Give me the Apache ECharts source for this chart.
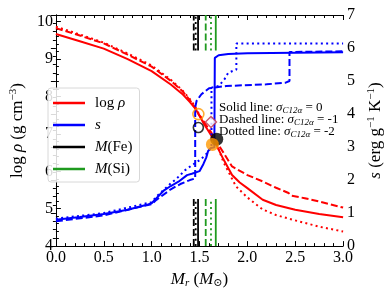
<!DOCTYPE html>
<html><head><meta charset="utf-8">
<script src="https://cdn.jsdelivr.net/npm/echarts@6/dist/echarts.min.js"></script>
<style>html,body{margin:0;padding:0;background:#fff}#c{width:392px;height:294px}</style>
</head><body><div id="c"></div>
<script>
// log rho (left axis) curves: [M_r, log rho]
var rhoSolid = [[0,9.67],[0.25,9.48],[0.5,9.28],[0.75,9.0],[1.0,8.68],[1.2,8.32],[1.32,8.07],[1.4,7.85],[1.45,7.7],[1.49,7.53],[1.55,7.25],[1.6,7.05],[1.66,6.8],[1.7,6.58],[1.75,6.32],[1.84,5.9],[1.92,5.7],[2.0,5.55],[2.16,5.24],[2.3,5.1],[2.5,4.97],[2.75,4.86],[3.0,4.77]];
var rhoDashed = [[0,9.83],[0.25,9.63],[0.5,9.42],[0.75,9.12],[1.0,8.8],[1.2,8.42],[1.32,8.15],[1.4,7.9],[1.45,7.72],[1.49,7.53],[1.55,7.3],[1.62,7.05],[1.67,6.82],[1.75,6.5],[1.84,6.13],[2.0,5.9],[2.16,5.73],[2.3,5.56],[2.43,5.42],[2.46,5.35],[2.6,5.28],[2.74,5.2],[3.0,5.03]];
var rhoDotted = [[0,9.87],[0.25,9.66],[0.5,9.44],[0.75,9.15],[1.0,8.83],[1.2,8.45],[1.32,8.17],[1.4,7.93],[1.45,7.75],[1.49,7.55],[1.55,7.3],[1.62,7.0],[1.67,6.8],[1.75,6.25],[1.84,5.8],[1.88,5.6],[2.0,5.3],[2.16,4.98],[2.3,4.83],[2.48,4.7],[2.75,4.52],[3.0,4.39]];
// entropy s (right axis) curves: [M_r, s]
var sSolid = [[0,0.8],[0.25,0.88],[0.5,0.97],[0.75,1.1],[0.95,1.25],[1.0,1.3],[1.05,1.45],[1.13,1.69],[1.2,1.82],[1.28,1.95],[1.37,2.15],[1.42,2.19],[1.5,2.27],[1.54,2.48],[1.57,2.68],[1.59,2.88],[1.62,2.97],[1.655,2.99],[1.66,5.7],[1.7,5.78],[1.8,5.82],[2.0,5.84],[2.5,5.86],[3.0,5.87]];
var sDashed = [[0,0.75],[0.5,0.93],[1.0,1.27],[1.05,1.4],[1.2,1.72],[1.3,1.88],[1.4,2.0],[1.455,2.05],[1.455,4.2],[1.47,4.4],[1.52,4.6],[1.6,4.78],[1.78,4.85],[2.2,4.9],[2.4,4.95],[2.44,5.0],[2.44,5.88],[3.0,5.9]];
var sDotted = [[0,0.83],[0.5,1.0],[1.0,1.33],[1.05,1.5],[1.2,1.9],[1.26,2.04],[1.35,2.3],[1.42,2.45],[1.5,2.6],[1.56,2.75],[1.6,2.9],[1.625,3.0],[1.625,4.8],[1.7,4.85],[1.76,5.05],[1.8,5.25],[1.885,5.35],[1.885,6.14],[3.0,6.14]];
// M(Fe) and M(Si) positions (solid, dashed, dotted)
var mFe = [1.485, 1.44, 1.46];
var mSi = [1.67, 1.565, 1.62];
var markTop = [9.23, 10.18];
var markBottom = [4.0, 5.26];
// marker points on log rho axis
var openOrange = [[1.488, 7.53]];
var openBlack = [[1.488, 7.17]];
var openDiamond = [[1.62, 7.32]];
var filledOrange = [[1.635, 6.72]];
var filledBlack = [[1.68, 6.86]];

var RED = '#ff0000', BLUE = '#0000ff', GREEN = '#1f9a1f';
var styles = ['solid', [7,3], [2,3.3]];
var FONT = '"Liberation Serif","DejaVu Serif",serif';

var series = [];
function lineS(name, data, color, st, yi, w) {
  series.push({name: name, type: 'line', data: data, yAxisIndex: yi, symbol: 'none', showSymbol: false,
    lineStyle: {color: color, width: w || 2, type: st}, itemStyle: {color: color}, animation: false, z: 2});
}
lineS('rho', rhoSolid, RED, styles[0], 0);
lineS('rho', rhoDashed, RED, styles[1], 0);
lineS('rho', rhoDotted, RED, styles[2], 0);
lineS('s', sSolid, BLUE, styles[0], 1);
lineS('s', sDashed, BLUE, styles[1], 1);
lineS('s', sDotted, BLUE, styles[2], 1);
[mFe, mSi].forEach(function (arr, k) {
  var nm = k === 0 ? 'Fe' : 'Si';
  var col = k === 0 ? '#000' : GREEN;
  arr.forEach(function (x, i) {
    lineS(nm, [[x, markTop[0]], [x, markTop[1]]], col, styles[i], 0, 1.8);
    lineS(nm, [[x, markBottom[0]], [x, markBottom[1]]], col, styles[i], 0, 1.8);
  });
});
function scat(data, sym, size, fill, border, bw) {
  series.push({type: 'scatter', data: data, yAxisIndex: 0, symbol: sym, symbolSize: size,
    itemStyle: {color: fill, borderColor: border, borderWidth: bw}, animation: false, z: 5});
}
scat(openOrange, 'circle', 11, 'rgba(0,0,0,0)', '#ff9900', 1.6);
scat(openBlack, 'circle', 10, 'rgba(0,0,0,0)', '#000', 1.6);
scat(openDiamond, 'diamond', 11, '#fff', '#c0304a', 1.4);
scat(filledBlack, 'circle', 13, '#000', '#000', 0);
scat(filledOrange, 'circle', 13, '#ff9900', '#ff9900', 0);

var tickCommon = {show: true, inside: true, length: 5, lineStyle: {color: '#000', width: 1}};
var minorCommon = function (n) { return {show: true, splitNumber: n, length: 3, lineStyle: {color: '#000', width: 1}}; };
var labelFont = {color: '#000', fontFamily: FONT, fontSize: 16};
var rich = {
  n: {fontFamily: FONT, fontSize: 17, color: '#000'},
  i: {fontFamily: FONT, fontSize: 17, fontStyle: 'italic', color: '#000'},
  sup: {fontFamily: FONT, fontSize: 11, color: '#000', verticalAlign: 'top', padding: [0,0,8,0]},
  sub: {fontFamily: FONT, fontSize: 11, fontStyle: 'italic', color: '#000', padding: [8,0,0,0]},
  subn: {fontFamily: FONT, fontSize: 11, color: '#000', padding: [8,0,0,0]}
};

var chart = echarts.init(document.getElementById('c'), null, {renderer: 'canvas'});
chart.setOption({
  backgroundColor: '#fff',
  animation: false,
  grid: {left: 43, right: 38, top: 15, bottom: 39},
  legend: {
    left: 48, top: 88, orient: 'vertical', data: ['rho', 's', 'Fe', 'Si'],
    icon: 'rect', itemWidth: 32, itemHeight: 2.5, itemGap: 6,
    backgroundColor: 'rgba(255,255,255,0.85)', borderColor: '#d8d8d8', borderWidth: 1, borderRadius: 3,
    padding: [7, 7, 5, 5],
    formatter: function (n) {
      return {rho: '{n|log }{i|ρ}', s: '{i|s}', Fe: '{i|M}{n|(Fe)}', Si: '{i|M}{n|(Si)}'}[n];
    },
    textStyle: {padding: [0, 0, 0, 5], lineHeight: 16, rich: {
      n: {fontFamily: FONT, fontSize: 15, color: '#000', lineHeight: 16},
      i: {fontFamily: FONT, fontSize: 15, fontStyle: 'italic', color: '#000', lineHeight: 16}
    }}
  },
  xAxis: [{
    type: 'value', min: 0, max: 3, interval: 0.5, position: 'bottom',
    axisLine: {show: true, lineStyle: {color: '#000', width: 1}},
    axisTick: tickCommon, minorTick: minorCommon(5), splitLine: {show: false},
    axisLabel: Object.assign({margin: 4, formatter: function (v) { return v.toFixed(1); }}, labelFont),
    name: '{i|M}{sub|r}{n| (}{i|M}{subn|⊙}{n|)}', nameLocation: 'middle', nameGap: 22,
    nameTextStyle: {rich: rich}
  }, {
    type: 'value', min: 0, max: 3, interval: 0.5, position: 'top',
    axisLine: {show: true, lineStyle: {color: '#000', width: 1}},
    axisTick: tickCommon, minorTick: minorCommon(5), splitLine: {show: false},
    axisLabel: {show: false}
  }],
  yAxis: [{
    type: 'value', min: 4, max: 10.18, interval: 1, position: 'left',
    axisLine: {show: true, lineStyle: {color: '#000', width: 1}},
    axisTick: tickCommon, minorTick: minorCommon(5), splitLine: {show: false},
    axisLabel: Object.assign({margin: 3, formatter: function (v) { return Math.abs(v - Math.round(v)) < 1e-6 ? String(Math.round(v)) : ''; }}, labelFont),
    name: '{n|log }{i|ρ}{n| (g cm}{sup|−3}{n|)}', nameLocation: 'middle', nameGap: 22,
    nameTextStyle: {rich: rich}
  }, {
    type: 'value', min: 0, max: 7, interval: 1, position: 'right',
    axisLine: {show: true, lineStyle: {color: '#000', width: 1}},
    axisTick: tickCommon, minorTick: minorCommon(4), splitLine: {show: false},
    axisLabel: Object.assign({margin: 4}, labelFont),
    name: '{i|s}{n| (erg g}{sup|−1}{n| K}{sup|−1}{n|)}', nameLocation: 'middle', nameGap: 18,
    nameTextStyle: {rich: rich}
  }],
  graphic: [{
    type: 'text', left: 219, top: 101, z: 10,
    style: {
      text: '{n|Solid line: }{i|σ}{s|C12α}{n| = 0}\n{n|Dashed line: }{i|σ}{s|C12α}{n| = -1}\n{n|Dotted line: }{i|σ}{s|C12α}{n| = -2}',
      lineHeight: 12,
      rich: {
        n: {fontFamily: FONT, fontSize: 13, color: '#000', lineHeight: 12},
        i: {fontFamily: FONT, fontSize: 13, fontStyle: 'italic', color: '#000', lineHeight: 12},
        s: {fontFamily: FONT, fontSize: 9, fontStyle: 'italic', color: '#000', padding: [5,0,0,0], lineHeight: 12}
      }
    }
  }],
  series: series
});
</script></body></html>
